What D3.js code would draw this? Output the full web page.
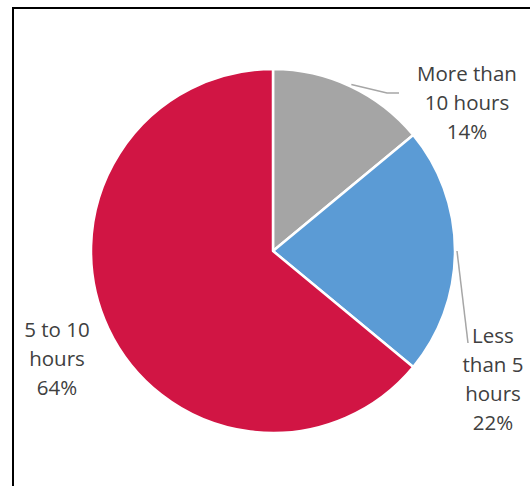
<!DOCTYPE html>
<html>
<head>
<meta charset="utf-8">
<script src="https://cdn.jsdelivr.net/npm/d3@7"></script>
<style>
  html, body { margin: 0; padding: 0; background: #fff; }
  svg { display: block; }
</style>
</head>
<body>
<svg id="chart" width="530" height="486"></svg>
<script>
const categories = ["More than 10 hours", "Less than 5 hours", "5 to 10 hours"];
const values = [14, 22, 64];
const labelLines = [
  ["More than", "10 hours", "14%"],
  ["Less", "than 5", "hours", "22%"],
  ["5 to 10", "hours", "64%"]
];
const colors = ["#A5A5A5", "#5B9BD5", "#D11544"];

const svg = d3.select("#chart");
const W = 530, H = 486;

// chart frame
svg.append("rect")
  .attr("x", 13).attr("y", 8)
  .attr("width", W).attr("height", H)
  .attr("fill", "#fff")
  .attr("stroke", "#000")
  .attr("stroke-width", 2);

const cx = 273, cy = 251, r = 182;
const g = svg.append("g").attr("transform", `translate(${cx},${cy})`);

const data = categories.map((c, i) => ({ name: c, value: values[i], color: colors[i], lines: labelLines[i] }));
const pie = d3.pie().value(d => d.value).sort(null);
const arcs = pie(data);
const arc = d3.arc().innerRadius(0).outerRadius(r);

g.selectAll("path.slice")
  .data(arcs)
  .join("path")
  .attr("class", "slice")
  .attr("d", arc)
  .attr("fill", d => d.data.color)
  .attr("stroke", "#fff")
  .attr("stroke-width", 2.5)
  .attr("stroke-linejoin", "round");

// label placement (anchor center x, first baseline y, relative to pie center)
const labelPos = [
  { x: 194, y: -170 },
  { x: 220, y: 92 },
  { x: -216, y: 86 }
];
const lineH = 29;

const labels = g.selectAll("text.lbl")
  .data(arcs)
  .join("text")
  .attr("class", "lbl")
  .attr("text-anchor", "middle")
  .attr("font-family", "'Open Sans', 'Liberation Sans', sans-serif")
  .attr("font-size", 20.5)
  .attr("fill", "#404040");
labels.each(function(d, i) {
  const t = d3.select(this);
  d.data.lines.forEach((ln, j) => {
    t.append("tspan")
      .attr("x", labelPos[i].x)
      .attr("y", labelPos[i].y + j * lineH)
      .text(ln);
  });
});

// leader lines: start at slice edge mid-angle
const pt = (ang, rad) => [Math.sin(ang) * rad, -Math.cos(ang) * rad];
const leaderEnds = [
  [[114, -158], [126, -158]],
  [[195, 92]],
  null
];
arcs.forEach((d, i) => {
  if (!leaderEnds[i]) return;
  const mid = (d.startAngle + d.endAngle) / 2;
  const pts = [pt(mid, r + 2)].concat(leaderEnds[i]);
  g.append("path")
    .attr("d", d3.line()(pts))
    .attr("fill", "none")
    .attr("stroke", "#A6A6A6")
    .attr("stroke-width", 1.5);
});
</script>
</body>
</html>
